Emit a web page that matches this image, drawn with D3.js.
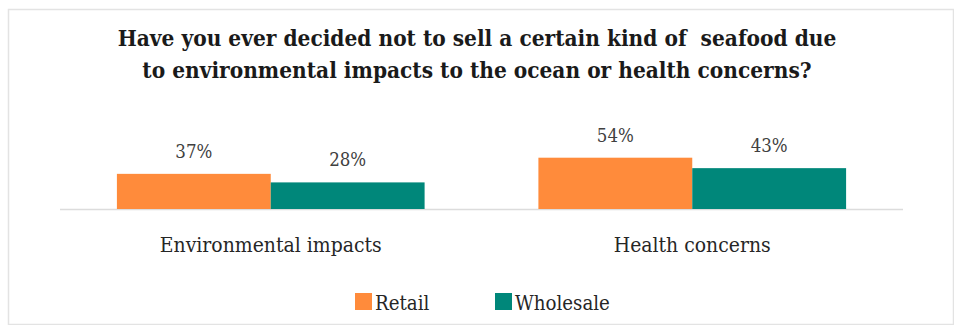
<!DOCTYPE html>
<html>
<head>
<meta charset="utf-8">
<script src="https://cdn.jsdelivr.net/npm/d3@7/dist/d3.min.js"></script>
<style>
  html, body { margin: 0; padding: 0; background: #ffffff; }
  svg { display: block; }
</style>
</head>
<body>
<svg id="chart" width="954" height="325"></svg>
<script>
// Survey answers (% answering yes), by category and business type
const categories = ["Environmental impacts", "Health concerns"];
const seriesNames = ["Retail", "Wholesale"];
const retailValues = [37, 54];
const wholesaleValues = [28, 43];
const seriesColors = ["#FF8B3B", "#00877A"];
const titleLines = [
  "Have you ever decided not to sell a certain kind of  seafood due",
  "to environmental impacts to the ocean or health concerns?"
];

const FONT = "DejaVu Serif Condensed";

const svg = d3.select("#chart");

// scale a text selection's font size so a reference string reaches a given width
function fitFont(sel, refNode, targetWidth, startSize) {
  sel.attr("font-size", startSize);
  const w = refNode.getComputedTextLength();
  const size = startSize * targetWidth / w;
  sel.attr("font-size", size);
  return size;
}

// outer frame
svg.append("rect")
  .attr("x", 8.5).attr("y", 9.5)
  .attr("width", 945).attr("height", 315)
  .attr("fill", "#ffffff")
  .attr("stroke", "#e3e3e3")
  .attr("stroke-width", 1.5);

// title (two centred lines, spacing kept as written)
const title = svg.append("g")
  .selectAll("text")
  .data(titleLines)
  .join("text")
  .attr("x", 477)
  .attr("y", (d, i) => 46 + i * 32)
  .attr("text-anchor", "middle")
  .style("font-family", FONT)
  .style("white-space", "pre")
  .attr("font-weight", "bold")
  .attr("fill", "#1a1a1a")
  .text(d => d);
fitFont(title, title.nodes()[0], 719, 23);

const plotLeft = 60, plotRight = 903, baseY = 209;

const x0 = d3.scaleBand()
  .domain(categories)
  .range([plotLeft, plotRight])
  .paddingInner(0.27)
  .paddingOuter(0.135);

const x1 = d3.scaleBand()
  .domain(seriesNames)
  .range([0, x0.bandwidth()])
  .padding(0);

const y = d3.scaleLinear()
  .domain([0, 100])
  .range([baseY, baseY - 95]);

const color = d3.scaleOrdinal().domain(seriesNames).range(seriesColors);

const rows = categories.map((c, i) => ({
  category: c,
  values: [
    { series: "Retail", value: retailValues[i] },
    { series: "Wholesale", value: wholesaleValues[i] }
  ]
}));

// baseline
svg.append("line")
  .attr("x1", plotLeft).attr("x2", plotRight)
  .attr("y1", baseY + 0.5).attr("y2", baseY + 0.5)
  .attr("stroke", "#dcdcdc")
  .attr("stroke-width", 1.5);

const groups = svg.append("g")
  .selectAll("g")
  .data(rows)
  .join("g")
  .attr("transform", d => `translate(${x0(d.category)},0)`);

groups.selectAll("rect")
  .data(d => d.values)
  .join("rect")
  .attr("x", d => x1(d.series))
  .attr("y", d => y(d.value))
  .attr("width", x1.bandwidth())
  .attr("height", d => y(0) - y(d.value))
  .attr("fill", d => color(d.series));

const valueLabels = svg.selectAll("text.value")
  .data(rows.flatMap(r => r.values.map(v => ({ ...v, category: r.category }))))
  .join("text")
  .attr("class", "value")
  .attr("x", d => x0(d.category) + x1(d.series) + x1.bandwidth() / 2)
  .attr("y", d => y(d.value) - 16)
  .attr("text-anchor", "middle")
  .style("font-family", FONT)
  .attr("fill", "#404040")
  .text(d => d.value + "%");
fitFont(valueLabels, valueLabels.nodes()[0], 37, 16);

// category axis labels
const xAxis = d3.axisBottom(x0).tickSize(0).tickPadding(0);
const axisG = svg.append("g")
  .attr("transform", `translate(0,${baseY})`)
  .call(xAxis);
axisG.select(".domain").remove();
const catLabels = axisG.selectAll("text")
  .attr("y", 43)
  .attr("dy", 0)
  .style("font-family", FONT)
  .attr("fill", "#262626");
fitFont(catLabels, catLabels.nodes()[0], 222, 20);

// legend
const legendItems = [
  { name: "Retail", x: 355 },
  { name: "Wholesale", x: 495 }
];
const legend = svg.append("g")
  .selectAll("g")
  .data(legendItems)
  .join("g")
  .attr("transform", d => `translate(${d.x},293)`);
legend.append("rect")
  .attr("width", 17).attr("height", 17)
  .attr("fill", d => color(d.name));
const legendText = legend.append("text")
  .attr("x", 20)
  .attr("y", 17)
  .style("font-family", FONT)
  .attr("fill", "#262626")
  .text(d => d.name);
fitFont(legendText, legendText.nodes()[1], 95, 19);
</script>
</body>
</html>
